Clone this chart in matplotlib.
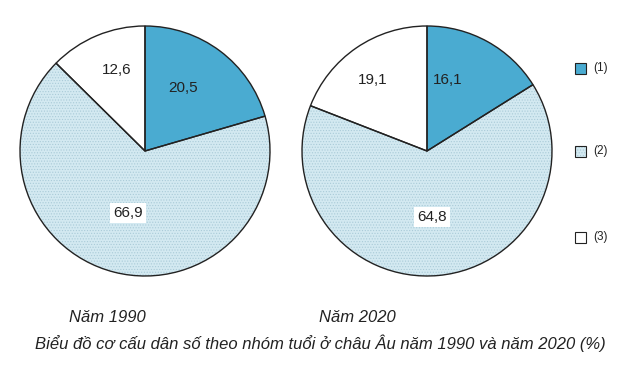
import matplotlib
matplotlib.use("Agg")
import matplotlib.pyplot as plt
from matplotlib.patches import Rectangle

years = ["Năm 1990", "Năm 2020"]
groups = ["(1)", "(2)", "(3)"]
values_1990 = [20.5, 66.9, 12.6]
values_2020 = [16.1, 64.8, 19.1]
title = "Biểu đồ cơ cấu dân số theo nhóm tuổi ở châu Âu năm 1990 và năm 2020 (%)"

colors = ["#4aabd1", "#d3e9f1", "#ffffff"]
hatches = [None, "......", None]
hatch_col = "#aacbd8"

plt.rcParams['hatch.linewidth'] = 0.5

W, H = 622, 367
fig = plt.figure(figsize=(W / 100, H / 100), dpi=100)
ax = fig.add_axes([0, 0, 1, 1])

num_font = ["Liberation Sans", "DejaVu Sans"]
cap_font = ["Liberation Sans Narrow", "Liberation Sans", "DejaVu Sans"]

def fmt(v):
    return f"{v:.1f}".replace(".", ",")

centers = [(145, 151), (427, 151)]
radius = 125
label_pos = [
    [(183, 88), (128, 213), (117, 70)],
    [(448, 80), (432, 217), (373, 80)],
]
for vals, c, lp in zip([values_1990, values_2020], centers, label_pos):
    ctr = (c[0], H - c[1])
    wedges, _ = ax.pie(vals, colors=colors, startangle=90, counterclock=False,
                       center=ctr, radius=radius,
                       wedgeprops=dict(linewidth=0))
    for w, h in zip(wedges, hatches):
        if h:
            w.set_hatch(h)
            w.set_edgecolor(hatch_col)
            w.set_linewidth(0)
    # outlines
    ax.pie(vals, colors=["none"] * len(vals), startangle=90, counterclock=False,
           center=ctr, radius=radius,
           wedgeprops=dict(edgecolor="#222222", linewidth=1.0, fill=False))
    for i, (v, p) in enumerate(zip(vals, lp)):
        kw = {}
        if i == 1:
            kw = dict(bbox=dict(boxstyle="square,pad=0.2", fc="white", ec="none"))
        ax.text(p[0], H - p[1], fmt(v), ha="center", va="center",
                fontsize=11, family=num_font, color="#222222", **kw)

# legend
leg_y = [68, 151, 237]
for g, col, hh, y in zip(groups, colors, hatches, leg_y):
    r = Rectangle((575, H - y - 6), 11, 11, facecolor=col,
                  edgecolor=hatch_col if hh else "#222222",
                  linewidth=0, hatch=hh)
    ax.add_patch(r)
    ax.add_patch(Rectangle((575, H - y - 6), 11, 11, fill=False,
                           edgecolor="#222222", linewidth=0.8))
    ax.text(593, H - y, g, ha="left", va="center", fontsize=8.5,
            family=num_font, color="#222222")

ax.text(107, H - 318, years[0], ha="center", va="center", fontsize=12,
        style="italic", family=cap_font, color="#222222")
ax.text(357, H - 318, years[1], ha="center", va="center", fontsize=12,
        style="italic", family=cap_font, color="#222222")
ax.text(320, H - 343, title, ha="center", va="center", fontsize=12,
        style="italic", family=cap_font, color="#222222")

ax.set_xlim(0, W)
ax.set_ylim(0, H)
ax.set_aspect("equal")
ax.axis("off")
fig.savefig("out.png", dpi=100)
